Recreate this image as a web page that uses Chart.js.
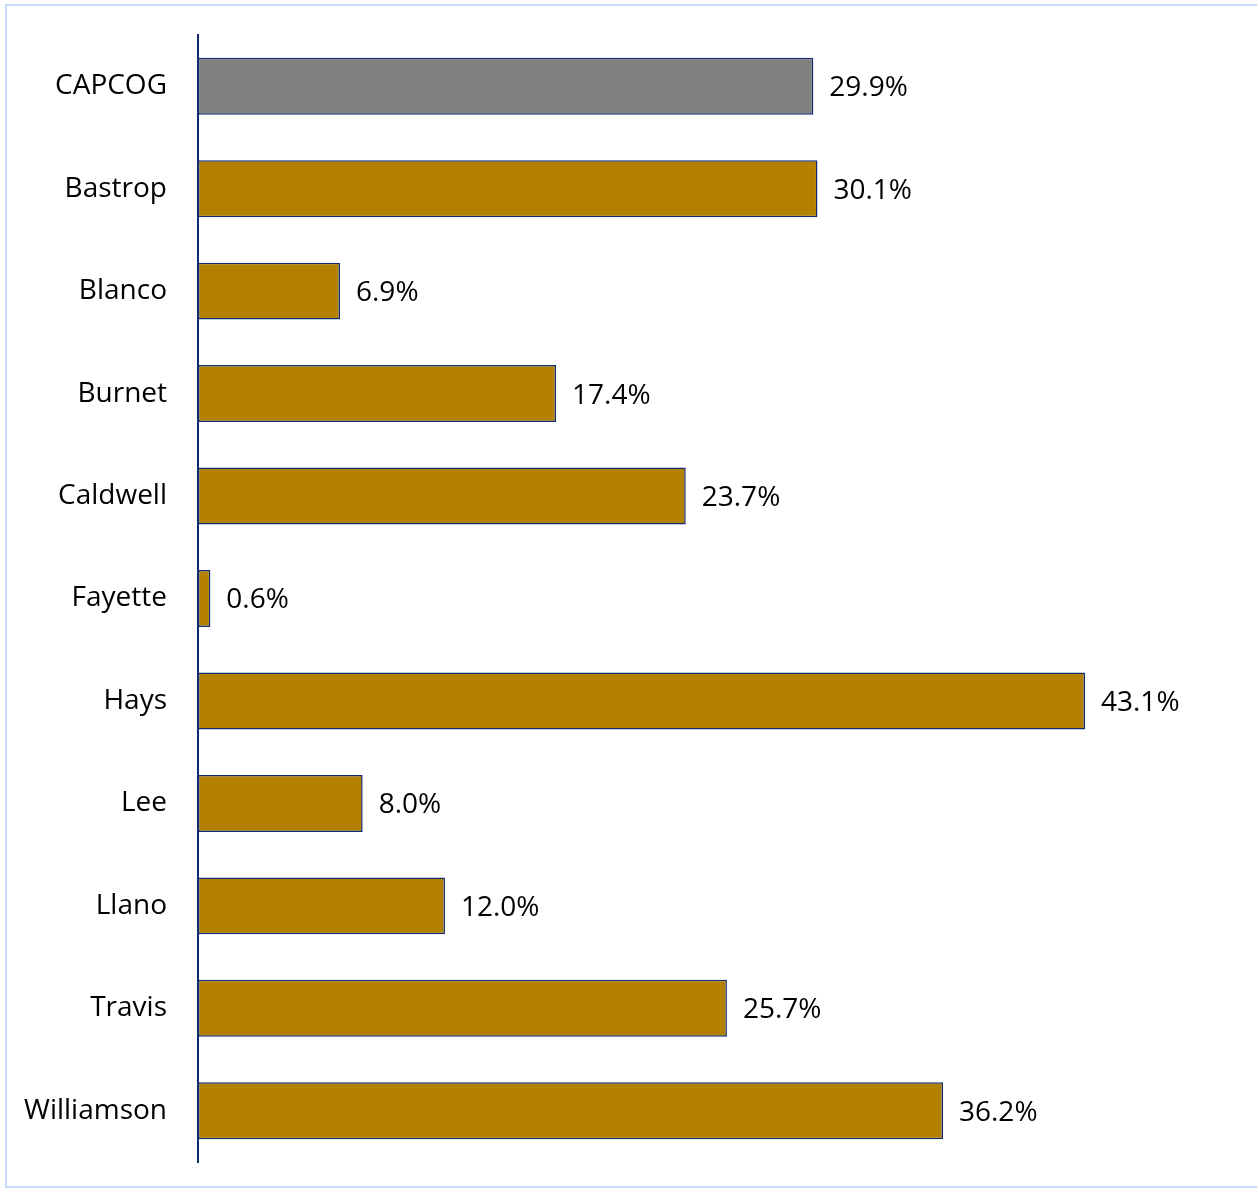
<!DOCTYPE html>
<html>
<head>
<meta charset="utf-8">
<script src="https://cdn.jsdelivr.net/npm/chart.js@4"></script>
<style>
  html, body { margin: 0; padding: 0; background: #fff; overflow: hidden; }
  #frame {
    position: absolute; left: 5px; top: 4px; width: 1300px; height: 1184px;
    border: 2px solid #c9dbf8; box-sizing: border-box;
  }
  #wrap { position: absolute; left: 0; top: 0; width: 1257px; height: 1191px; }
</style>
</head>
<body>
<div id="frame"></div>
<div id="wrap"><canvas id="chart" width="1257" height="1191"></canvas></div>
<script>
// Condados de la región y su valor porcentual
const condados = ['CAPCOG', 'Bastrop', 'Blanco', 'Burnet', 'Caldwell', 'Fayette', 'Hays', 'Lee', 'Llano', 'Travis', 'Williamson'];
const valores = [29.9, 30.1, 6.9, 17.4, 23.7, 0.6, 43.1, 8.0, 12.0, 25.7, 36.2];

const DORADO = '#b38000';
const GRIS = '#808080';
const AZUL = '#102c6e';
const FUENTE = '"Open Sans", "Liberation Sans", sans-serif';

// Etiquetas con el valor al final de cada barra
const etiquetasValor = {
  id: 'etiquetasValor',
  afterDatasetsDraw(chart) {
    const ctx = chart.ctx;
    const meta = chart.getDatasetMeta(0);
    ctx.save();
    ctx.font = '28px ' + FUENTE;
    ctx.fillStyle = '#000';
    ctx.textBaseline = 'middle';
    ctx.textAlign = 'left';
    meta.data.forEach((barra, i) => {
      ctx.fillText(valores[i].toFixed(1) + '%', barra.x + 16, barra.y + 2);
    });
    ctx.restore();
  }
};

new Chart(document.getElementById('chart').getContext('2d'), {
  type: 'bar',
  data: {
    labels: condados,
    datasets: [{
      data: valores,
      backgroundColor: condados.map(c => c === 'CAPCOG' ? GRIS : DORADO),
      borderColor: AZUL,
      borderWidth: 1.5,
      borderSkipped: false,
      categoryPercentage: 0.556,
      barPercentage: 1
    }]
  },
  options: {
    indexAxis: 'y',
    responsive: false,
    animation: false,
    layout: { padding: { top: 35, bottom: 29, left: 0, right: 30 } },
    plugins: {
      legend: { display: false },
      tooltip: { enabled: false }
    },
    scales: {
      x: {
        display: false,
        min: 0,
        max: 50
      },
      y: {
        grid: { display: false, drawTicks: false },
        border: { display: true, color: AZUL, width: 2 },
        ticks: {
          color: '#000',
          padding: 31,
          font: { family: FUENTE, size: 28 }
        },
        afterFit(scale) {
          scale.width = 198;
          scale.paddingTop = 0;
          scale.paddingBottom = 0;
        }
      }
    }
  },
  plugins: [etiquetasValor]
});
</script>
</body>
</html>
